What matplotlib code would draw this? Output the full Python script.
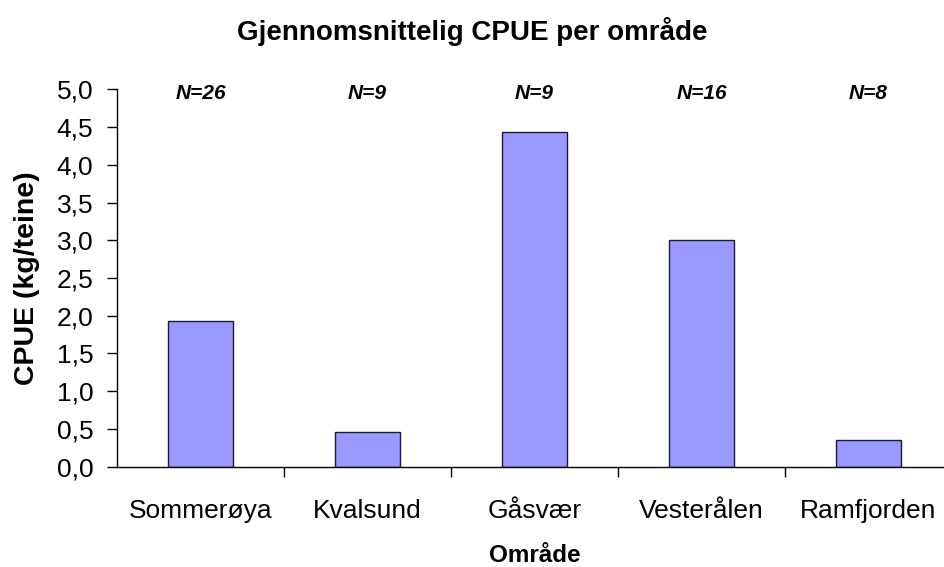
import matplotlib.pyplot as plt
from matplotlib.ticker import FuncFormatter

plt.rcParams['font.family'] = ['Liberation Sans', 'DejaVu Sans']

omrader = ['Sommerøya', 'Kvalsund', 'Gåsvær', 'Vesterålen', 'Ramfjorden']
cpue = [1.93, 0.46, 4.43, 3.01, 0.35]
n_labels = ['N=26', 'N=9', 'N=9', 'N=16', 'N=8']

fig = plt.figure(figsize=(9.44, 5.67), dpi=100)
ax = fig.add_axes([117 / 944, 1 - 466.7 / 567, 835 / 944, (466.7 - 89.3) / 567])

x = range(len(omrader))
ax.bar(x, cpue, width=0.39, color='#9999ff', edgecolor='#1a1a3a', linewidth=1.0)

ax.set_xlim(-0.5, 4.5)
ax.set_ylim(0, 5)
ax.set_yticks([i * 0.5 for i in range(11)])
ax.yaxis.set_major_formatter(FuncFormatter(lambda v, p: '{:.1f}'.format(v).replace('.', ',')))
ax.tick_params(axis='y', length=7, width=1, pad=10, labelsize=19, direction='out')

# kategorinavn midt i feltet, tikkmerker mellom feltene
ax.set_xticks(list(x))
ax.set_xticklabels(omrader)
ax.set_xticks([0.5, 1.5, 2.5, 3.5], minor=True)
ax.tick_params(axis='x', which='major', length=0, pad=23.5, labelsize=19)
ax.tick_params(axis='x', which='minor', length=7, width=1, direction='out')

for s in ['top', 'right']:
    ax.spines[s].set_visible(False)
ax.spines['left'].set_linewidth(1)
ax.spines['bottom'].set_linewidth(1)

for i, t in enumerate(n_labels):
    ax.text(i, 4.95, t, ha='center', va='center', fontsize=15,
            fontweight='bold', style='italic', clip_on=False)

ax.set_ylabel('CPUE (kg/teine)', fontsize=20.5, fontweight='bold', labelpad=12)
ax.set_xlabel('Område', fontsize=17.5, fontweight='bold', labelpad=15)
fig.text(0.5, 1 - 31 / 567, 'Gjennomsnittelig CPUE per område', ha='center', va='center',
         fontsize=20, fontweight='bold')

fig.savefig('out.png', dpi=100)
